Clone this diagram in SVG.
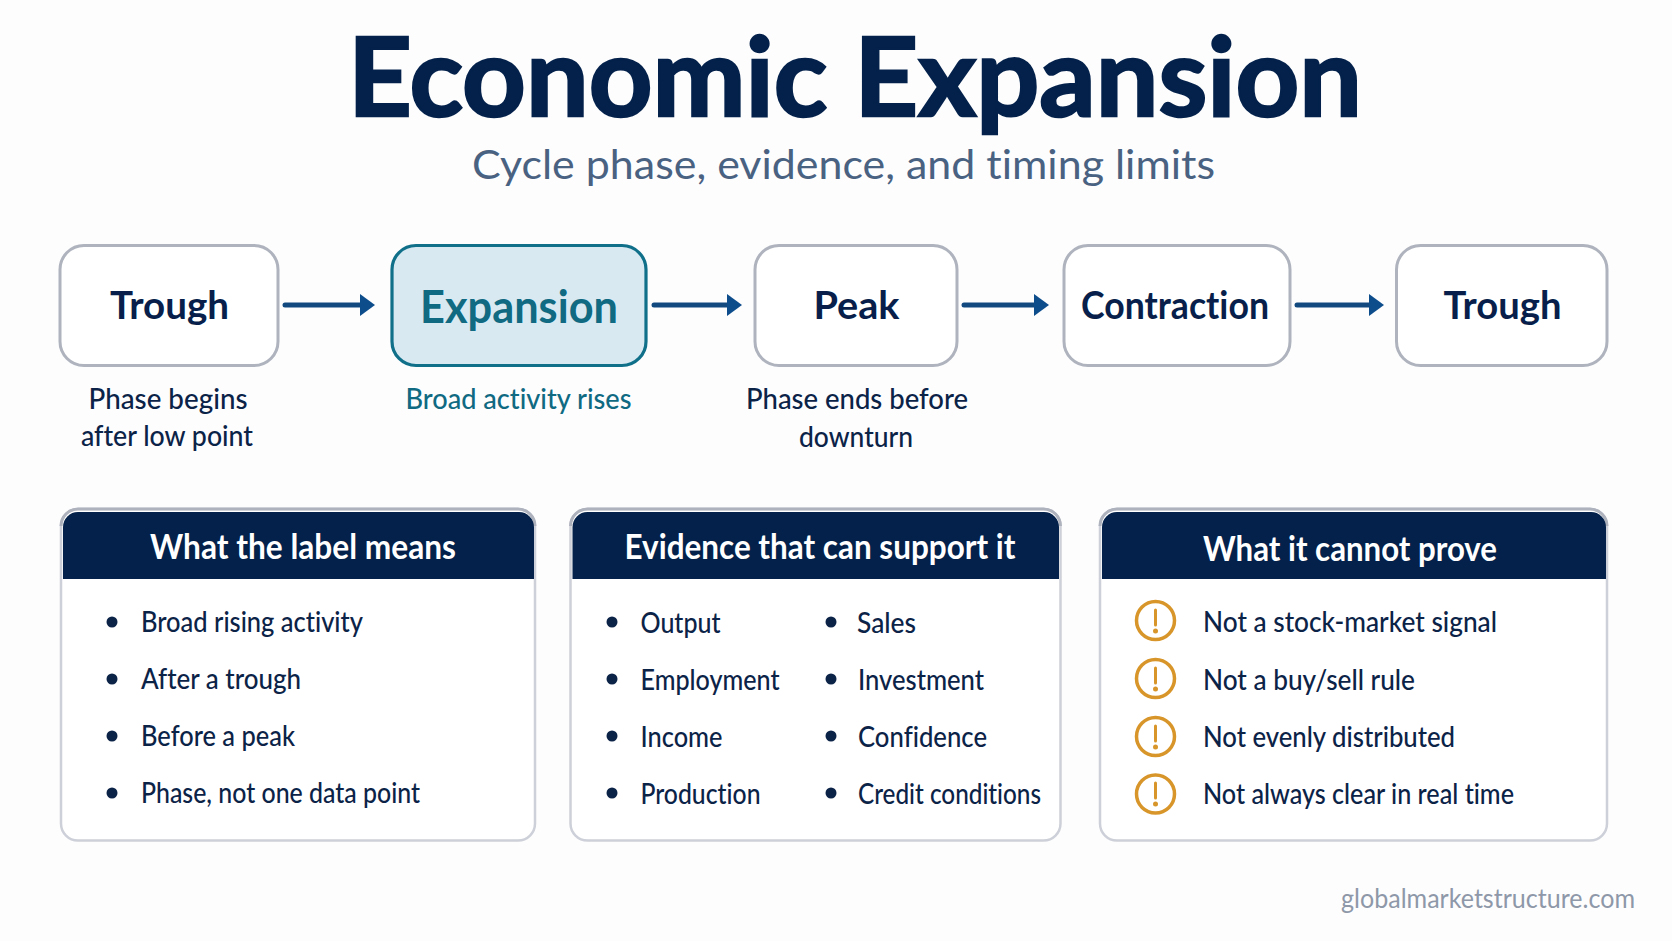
<svg xmlns="http://www.w3.org/2000/svg" width="1672" height="941" viewBox="0 0 1672 941">
<style>
text{font-family:"Lato","Noto Sans","Liberation Sans",sans-serif;font-variant-ligatures:none}
.title{font-size:109px;font-weight:700;fill:#03214a;stroke:#03214a;stroke-width:2.5}
.sub{font-size:41px;font-weight:400;fill:#4a6282}
.node{fill:#fff;stroke:#aeb3bd;stroke-width:3}
.node-on{fill:#d9e9f2;stroke:#10708a;stroke-width:3.2}
.nl{font-size:39px;font-weight:700;fill:#071f4a}
.nl-on{font-size:45px;font-weight:700;fill:#0f6a82}
.cap{font-size:29px;font-weight:500;fill:#0c2348}
.cap-on{font-size:29px;font-weight:500;fill:#0f6a82}
.panel{fill:#fff;stroke:#cdd0d8;stroke-width:2.5}
.rim{fill:none;stroke:#aeb2bc;stroke-width:3}
.head{fill:#03214a}
.ht{font-size:34px;font-weight:700;fill:#fff}
.it{font-size:29px;font-weight:500;fill:#0c2348}
.dot{fill:#0c2348}
.warn{fill:none;stroke:#d8962a;stroke-width:3.5}
.warn-m{stroke:#d8962a;stroke-width:3;stroke-linecap:round}
.warn-d{fill:#d8962a}
.foot{font-size:27px;font-weight:400;fill:#8e98a8}
.conn{stroke:#124a80;stroke-width:5;stroke-linecap:round;fill:none;marker-end:url(#ah)}
</style>
<defs>
<marker id="ah" markerUnits="userSpaceOnUse" markerWidth="18" markerHeight="24" refX="2" refY="12" orient="auto">
<path d="M2 1L17 12L2 23Z" fill="#0e4d8c"/>
</marker>
</defs>
<rect width="1672" height="941" fill="#fdfdfe"/>
<g id="heading">
<text class="title" x="348" y="115.500" textLength="1014" lengthAdjust="spacingAndGlyphs">Economic Expansion</text>
<text class="sub" x="472" y="179" textLength="743" lengthAdjust="spacingAndGlyphs">Cycle phase, evidence, and timing limits</text>
</g>
<g id="connectors">
<path class="conn" d="M285 305H360"/>
<path class="conn" d="M654 305H727"/>
<path class="conn" d="M964 305H1034"/>
<path class="conn" d="M1297 305H1369"/>
</g>
<g id="node-trough-1">
<rect class="node" x="60" y="245.500" width="218" height="120" rx="24"/>
<text class="nl" x="110" y="319" textLength="119" lengthAdjust="spacingAndGlyphs">Trough</text>
<text class="cap" x="88.500" y="408.500" textLength="159" lengthAdjust="spacingAndGlyphs">Phase begins</text>
<text class="cap" x="81" y="445.500" textLength="172" lengthAdjust="spacingAndGlyphs">after low point</text>
</g>
<g id="node-expansion">
<rect class="node-on" x="392" y="245.500" width="254" height="120" rx="24"/>
<text class="nl-on" x="420" y="323" textLength="198" lengthAdjust="spacingAndGlyphs">Expansion</text>
<text class="cap-on" x="405.500" y="408.500" textLength="226" lengthAdjust="spacingAndGlyphs">Broad activity rises</text>
</g>
<g id="node-peak">
<rect class="node" x="755" y="245.500" width="202" height="120" rx="24"/>
<text class="nl" x="813.500" y="319" textLength="86" lengthAdjust="spacingAndGlyphs">Peak</text>
<text class="cap" x="746" y="408.500" textLength="222" lengthAdjust="spacingAndGlyphs">Phase ends before</text>
<text class="cap" x="799" y="446.500" textLength="114" lengthAdjust="spacingAndGlyphs">downturn</text>
</g>
<g id="node-contraction">
<rect class="node" x="1064" y="245.500" width="226" height="120" rx="24"/>
<text class="nl" x="1081" y="319" textLength="188" lengthAdjust="spacingAndGlyphs">Contraction</text>
</g>
<g id="node-trough-2">
<rect class="node" x="1396.500" y="245.500" width="210.500" height="120" rx="24"/>
<text class="nl" x="1443.500" y="319" textLength="118" lengthAdjust="spacingAndGlyphs">Trough</text>
</g>
<g id="panel-label">
<rect class="panel" x="61" y="509" width="474" height="331.500" rx="17"/>
<path class="rim" d="M61 526a17 17 0 0 1 17-17H518a17 17 0 0 1 17 17"/>
<path class="head" d="M63 579V527a15 15 0 0 1 15-15H519a15 15 0 0 1 15 15V579Z"/>
<text class="ht" x="150" y="559" textLength="306" lengthAdjust="spacingAndGlyphs">What the label means</text>
<circle class="dot" cx="112" cy="622" r="5.5"/><text class="it" x="141" y="632" textLength="222" lengthAdjust="spacingAndGlyphs">Broad rising activity</text>
<circle class="dot" cx="112" cy="679" r="5.5"/><text class="it" x="141" y="689" textLength="160" lengthAdjust="spacingAndGlyphs">After a trough</text>
<circle class="dot" cx="112" cy="736" r="5.5"/><text class="it" x="141" y="746" textLength="154" lengthAdjust="spacingAndGlyphs">Before a peak</text>
<circle class="dot" cx="112" cy="793" r="5.5"/><text class="it" x="141" y="803" textLength="279" lengthAdjust="spacingAndGlyphs">Phase, not one data point</text>
</g>
<g id="panel-evidence">
<rect class="panel" x="570.500" y="509" width="490" height="331.500" rx="17"/>
<path class="rim" d="M570.500 526a17 17 0 0 1 17-17H1043.500a17 17 0 0 1 17 17"/>
<path class="head" d="M572.500 579V527a15 15 0 0 1 15-15H1044a15 15 0 0 1 15 15V579Z"/>
<text class="ht" x="624.500" y="559" textLength="391" lengthAdjust="spacingAndGlyphs">Evidence that can support it</text>
<circle class="dot" cx="612" cy="622" r="5.5"/><text class="it" x="640.500" y="632.500" textLength="80" lengthAdjust="spacingAndGlyphs">Output</text>
<circle class="dot" cx="612" cy="679" r="5.5"/><text class="it" x="640.500" y="689.500" textLength="139" lengthAdjust="spacingAndGlyphs">Employment</text>
<circle class="dot" cx="612" cy="736" r="5.5"/><text class="it" x="640.500" y="746.500" textLength="82" lengthAdjust="spacingAndGlyphs">Income</text>
<circle class="dot" cx="612" cy="793" r="5.5"/><text class="it" x="640.500" y="803.500" textLength="120" lengthAdjust="spacingAndGlyphs">Production</text>
<circle class="dot" cx="831" cy="622" r="5.5"/><text class="it" x="857" y="632.500" textLength="59" lengthAdjust="spacingAndGlyphs">Sales</text>
<circle class="dot" cx="831" cy="679" r="5.5"/><text class="it" x="858" y="689.500" textLength="126" lengthAdjust="spacingAndGlyphs">Investment</text>
<circle class="dot" cx="831" cy="736" r="5.5"/><text class="it" x="858" y="746.500" textLength="129" lengthAdjust="spacingAndGlyphs">Confidence</text>
<circle class="dot" cx="831" cy="793" r="5.5"/><text class="it" x="858" y="803.500" textLength="183" lengthAdjust="spacingAndGlyphs">Credit conditions</text>
</g>
<g id="panel-limits">
<rect class="panel" x="1100" y="509" width="507" height="331.500" rx="17"/>
<path class="rim" d="M1100 526a17 17 0 0 1 17-17H1590a17 17 0 0 1 17 17"/>
<path class="head" d="M1102 579V527a15 15 0 0 1 15-15H1591a15 15 0 0 1 15 15V579Z"/>
<text class="ht" x="1203" y="561" textLength="294" lengthAdjust="spacingAndGlyphs">What it cannot prove</text>
<circle class="warn" cx="1155.500" cy="620.500" r="19"/><path class="warn-m" d="M1155.500 610V625"/><circle class="warn-d" cx="1155.500" cy="631" r="2.500"/>
<text class="it" x="1203" y="632" textLength="294" lengthAdjust="spacingAndGlyphs">Not a stock-market signal</text>
<circle class="warn" cx="1155.500" cy="678.500" r="19"/><path class="warn-m" d="M1155.500 668V683"/><circle class="warn-d" cx="1155.500" cy="689" r="2.500"/>
<text class="it" x="1203" y="689.500" textLength="212" lengthAdjust="spacingAndGlyphs">Not a buy/sell rule</text>
<circle class="warn" cx="1155.500" cy="736.500" r="19"/><path class="warn-m" d="M1155.500 726V741"/><circle class="warn-d" cx="1155.500" cy="747" r="2.500"/>
<text class="it" x="1203" y="747" textLength="252" lengthAdjust="spacingAndGlyphs">Not evenly distributed</text>
<circle class="warn" cx="1155.500" cy="794" r="19"/><path class="warn-m" d="M1155.500 783V798"/><circle class="warn-d" cx="1155.500" cy="804" r="2.500"/>
<text class="it" x="1203" y="804" textLength="311" lengthAdjust="spacingAndGlyphs">Not always clear in real time</text>
</g>
<text class="foot" x="1341" y="907.500" textLength="294" lengthAdjust="spacingAndGlyphs">globalmarketstructure.com</text>
</svg>
